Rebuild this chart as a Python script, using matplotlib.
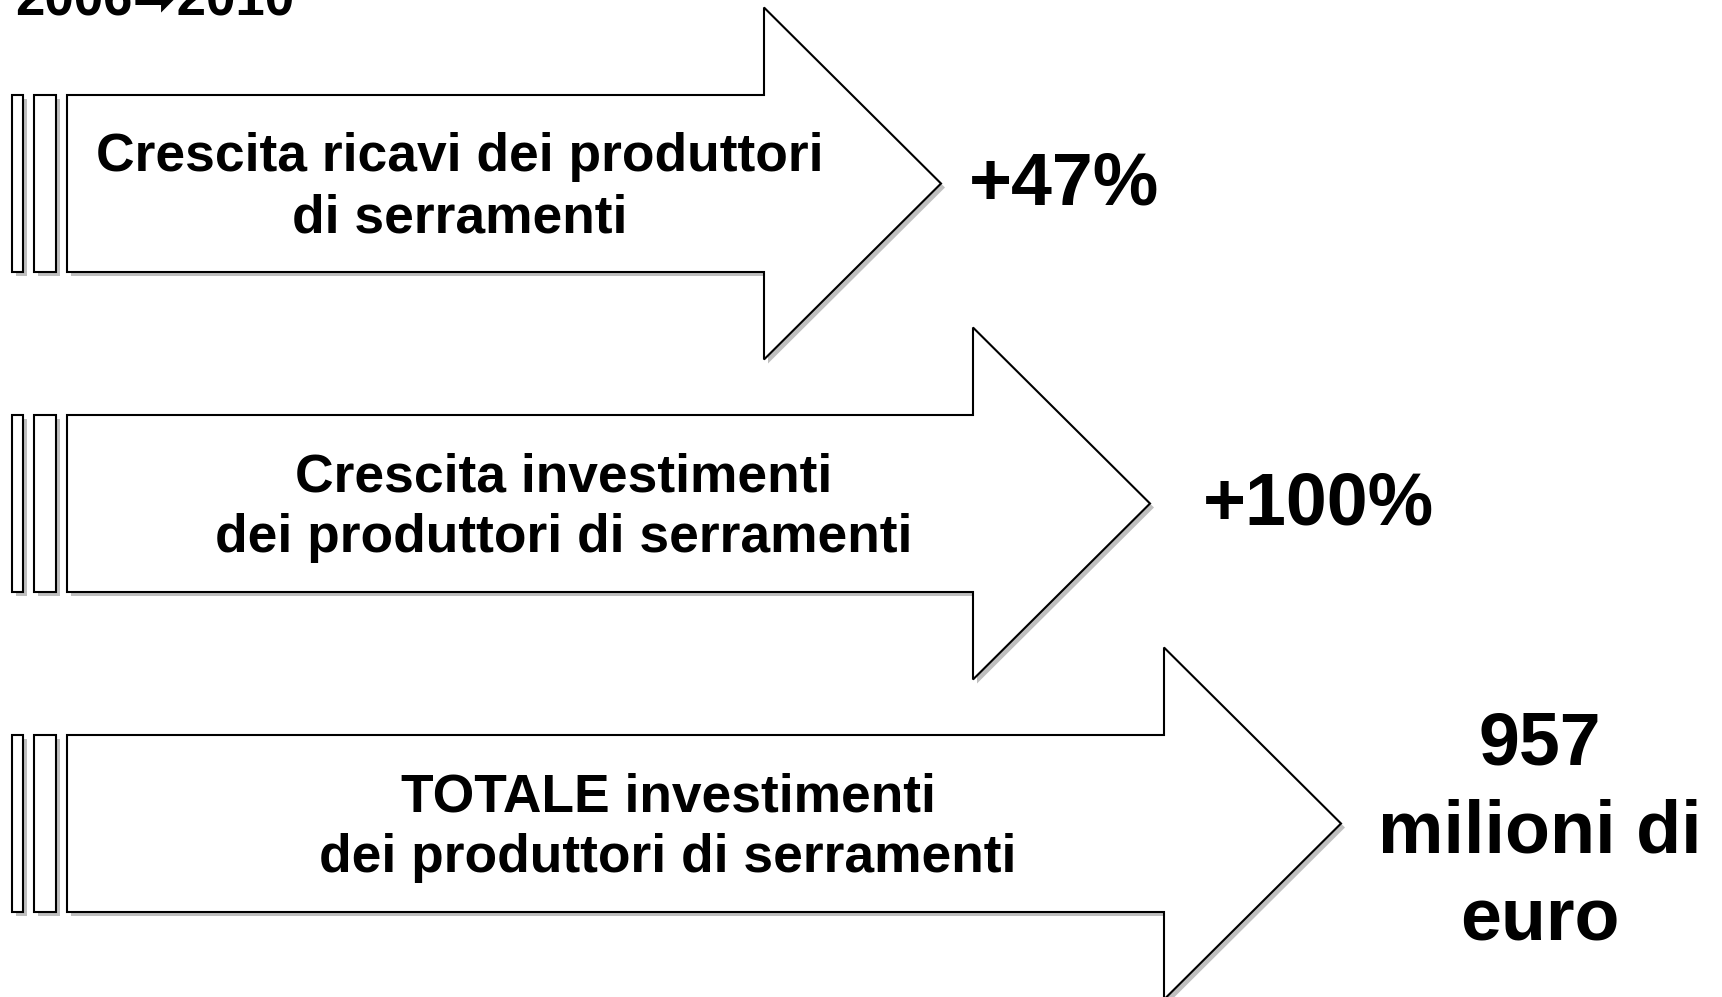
import matplotlib
matplotlib.use("Agg")
import matplotlib.pyplot as plt
from matplotlib.patches import Polygon, Rectangle

# testo del grafico
periodo = "2006\u27a12010"
etichette = [
    ["Crescita ricavi dei produttori", "di serramenti"],
    ["Crescita investimenti", "dei produttori di serramenti"],
    ["TOTALE investimenti", "dei produttori di serramenti"],
]
risultati = [
    ["+47%"],
    ["+100%"],
    ["957", "milioni di", "euro"],
]

FONT = ["Liberation Sans", "DejaVu Sans"]

fig = plt.figure(figsize=(17.22, 9.97), dpi=100)
ax = fig.add_axes([0, 0, 1, 1])
ax.set_xlim(0, 1722)
ax.set_ylim(997, 0)
ax.axis("off")

# geometria frecce (pixel)
centri_y = [183.5, 503.5, 823.5]
base_testa = [764, 973, 1164]
lung_testa = 177
semi_fusto = 88.5
semi_testa = 176
x_fusto = 67
strisce = [(12, 11), (34, 22)]
cx_testo = [460, 564, 668]
cx_ris = [1064, 1318, 1540]

ombra = "#bfbfbf"
d = 4

for i, cy in enumerate(centri_y):
    bx = base_testa[i]
    pts = [
        (x_fusto, cy - semi_fusto), (bx, cy - semi_fusto), (bx, cy - semi_testa),
        (bx + lung_testa, cy), (bx, cy + semi_testa), (bx, cy + semi_fusto),
        (x_fusto, cy + semi_fusto),
    ]
    ax.add_patch(Polygon([(x + d, y + d) for x, y in pts], closed=True,
                         facecolor=ombra, edgecolor="none", zorder=1))
    ax.add_patch(Polygon(pts, closed=True, facecolor="white", edgecolor="black",
                         lw=1.5, joinstyle="miter", zorder=2))
    for sx, sw in strisce:
        ax.add_patch(Rectangle((sx + d, cy - semi_fusto + d), sw, 2 * semi_fusto,
                               facecolor=ombra, edgecolor="none", zorder=1))
        ax.add_patch(Rectangle((sx, cy - semi_fusto), sw, 2 * semi_fusto,
                               facecolor="white", edgecolor="black", lw=1.5, zorder=2))

    # testo dentro la freccia
    for j, riga in enumerate(etichette[i]):
        ax.text(cx_testo[i], cy - 12.5 + 61 * j, riga, ha="center", va="baseline",
                fontsize=38.4, fontweight="bold", family=FONT, zorder=3)

    # risultato a destra
    righe = risultati[i]
    if len(righe) == 1:
        ax.text(cx_ris[i], cy + 21, righe[0], ha="center", va="baseline",
                fontsize=53, fontweight="bold", family=FONT, zorder=3)
    else:
        for j, riga in enumerate(righe):
            ax.text(cx_ris[i], 764 + 88 * j, riga, ha="center", va="baseline",
                    fontsize=53, fontweight="bold", family=FONT, zorder=3)

ax.text(15, 15, periodo, ha="left", va="baseline", fontsize=38,
        fontweight="bold", family=FONT, zorder=3)

fig.savefig("out.png", dpi=100, facecolor="white")
